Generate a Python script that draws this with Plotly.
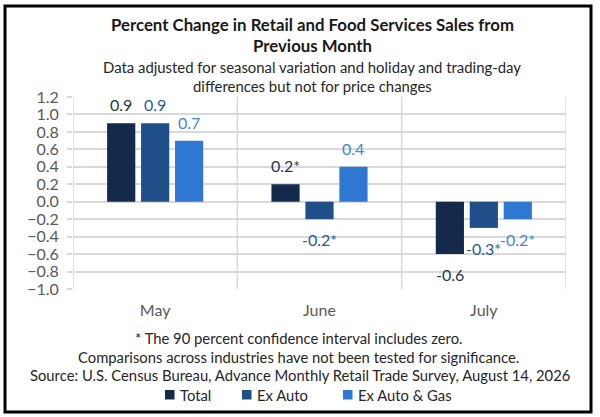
import plotly.graph_objects as go

months = ["May", "June", "July"]
series_names = ["Total", "Ex Auto", "Ex Auto & Gas"]
total = [0.9, 0.2, -0.6]
ex_auto = [0.9, -0.2, -0.3]
ex_auto_gas = [0.7, 0.4, -0.2]
total_labels = ["0.9", "0.2*", "-0.6"]
ex_auto_labels = ["0.9", "-0.2*", "-0.3*"]
ex_auto_gas_labels = ["0.7", "0.4", "-0.2*"]

bar_colors = ["#132a4c", "#1f4e89", "#2e78d2"]
label_colors = ["#243850", "#2b5a94", "#3f86d6"]

W, H = 600, 417
L, R, T, B = 73, 34, 97, 128
pw, ph = W - L - R, H - T - B
FONT = "Lato"
BARGAP, GROUPGAP = 0.38, 0.17


def px(x):
    return (x - L) / pw


def py(y):
    return (H - B - y) / ph


fig = go.Figure()
annotations = []
# width of one bar slot inside a group, in pixels
slot = pw / len(months) * (1 - BARGAP) / len(series_names)

series = [total, ex_auto, ex_auto_gas]
labels = [total_labels, ex_auto_labels, ex_auto_gas_labels]
for k, (name, vals, lbls, bc, lc) in enumerate(zip(series_names, series, labels,
                                                    bar_colors, label_colors)):
    fig.add_trace(go.Bar(
        name=name, x=months, y=vals,
        marker=dict(color=bc, line=dict(width=0)),
        hoverinfo="skip", showlegend=False,
    ))
    # value labels, a little further off the bar end than plotly's own outside text
    for m, v, t in zip(months, vals, lbls):
        annotations.append(dict(
            x=m, y=v, xref="x", yref="y", text=t, showarrow=False,
            xshift=(k - 1) * slot, yshift=7 if v >= 0 else -9,
            yanchor="bottom" if v >= 0 else "top", xanchor="center",
            font=dict(size=16, color=lc, family=FONT)))

shapes = []
# category separators and plot box sides
for xv in [-0.5, 0.5, 1.5, 2.5]:
    shapes.append(dict(type="line", xref="x", yref="y", x0=xv, x1=xv, y0=-1.0, y1=1.2,
                       line=dict(color="#d9d9d9", width=1.5), layer="below"))
# outer frame
shapes.append(dict(type="rect", xref="paper", yref="paper",
                   x0=px(5), x1=px(591), y0=py(412), y1=py(6),
                   line=dict(color="black", width=3)))


def note(text, y, size=14.8, color="#262626", bold=False, x=300, anchor="center"):
    if bold:
        text = "<b>" + text + "</b>"
    annotations.append(dict(text=text, xref="paper", yref="paper", x=px(x), y=py(y),
                            xanchor=anchor, yanchor="middle", showarrow=False,
                            font=dict(size=size, color=color, family=FONT)))


note("Percent Change in Retail and Food Services Sales from", 24, size=16.8, color="#1a1a1a", bold=True, x=312)
note("Previous Month", 45, size=16.8, color="#1a1a1a", bold=True, x=312)
note("Data adjusted for seasonal variation and holiday and trading-day", 67, size=14.9, x=312)
note("differences but not for price changes", 86, size=14.9, x=312)
note("* The 90 percent confidence interval includes zero.", 338, x=299)
note("Comparisons across industries have not been tested for significance.", 357, x=298)
note("Source: U.S. Census Bureau, Advance Monthly Retail Trade Survey, August 14, 2026", 375, x=299.5)

# legend drawn by hand: small swatch + text per series
legend_swatch_x = [165, 242, 343]
for name, bc, sx in zip(series_names, bar_colors, legend_swatch_x):
    shapes.append(dict(type="rect", xref="paper", yref="paper",
                       x0=px(sx), x1=px(sx + 9.5), y0=py(399.5), y1=py(390),
                       fillcolor=bc, line=dict(width=0)))
    note(name, 395, x=sx + 12.5, anchor="left")

fig.update_layout(
    width=W, height=H,
    margin=dict(l=L, r=R, t=T, b=B, autoexpand=False),
    paper_bgcolor="white", plot_bgcolor="white",
    barmode="group", bargap=BARGAP, bargroupgap=GROUPGAP,
    font=dict(family=FONT, color="#595959"),
    showlegend=False,
    shapes=shapes, annotations=annotations,
)
fig.update_xaxes(showgrid=False, showline=False, ticks="", tickfont=dict(size=16, color="#595959"),
                 ticklabelstandoff=10, range=[-0.5, 2.5], fixedrange=True)
fig.update_yaxes(range=[-1.0, 1.2], dtick=0.2, tick0=-1.0, tickformat=".1f",
                 showgrid=True, gridcolor="#d9d9d9", gridwidth=1.5,
                 zeroline=True, zerolinecolor="#d9d9d9", zerolinewidth=1.5,
                 ticks="outside", ticklen=5, tickcolor="#d9d9d9", tickwidth=1.5,
                 ticklabelstandoff=5,
                 tickfont=dict(size=16, color="#595959"), fixedrange=True)

# page body has a default margin, drop it so the figure sits at the window corner
fig.write_html("out.html", config={"displayModeBar": False},
               post_script="document.body.style.margin='0px';")
